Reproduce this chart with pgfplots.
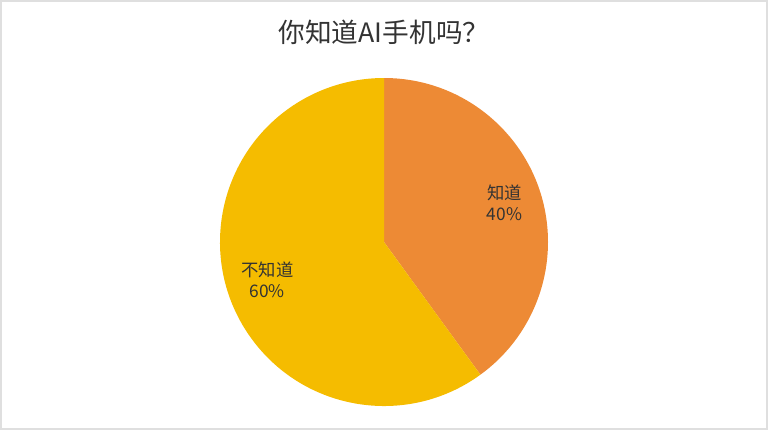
\documentclass[border=0pt]{standalone}
\usepackage{fontspec}
\setmainfont{Noto Sans CJK SC}
\usepackage{pgfplots}
\usepackage{pgfplotstable}
\pgfplotsset{compat=1.18}

\definecolor{Orange}{HTML}{ED8A35}
\definecolor{Gold}{HTML}{F5BC00}
\definecolor{Ink}{HTML}{333333}

% answers to the survey question, in percent
\pgfplotstableread{
label value
知道 40
不知道 60
}\answers

\pgfplotstablegetelem{0}{value}\of\answers \edef\know{\pgfplotsretval}
\pgfplotstablegetelem{1}{value}\of\answers \edef\dontknow{\pgfplotsretval}
\pgfplotstablegetelem{0}{label}\of\answers \edef\knowname{\pgfplotsretval}
\pgfplotstablegetelem{1}{label}\of\answers \edef\dontknowname{\pgfplotsretval}
\pgfmathsetmacro\total{\know+\dontknow}
\pgfmathsetmacro\split{90-360*\know/\total}
\pgfmathsetmacro\midA{90-180*\know/\total}
\pgfmathsetmacro\midB{\split-180*\dontknow/\total}

\begin{document}
\begin{tikzpicture}
\begin{axis}[
    width=576pt, height=322.5pt, scale only axis,
    xmin=0, xmax=768, ymin=0, ymax=430,
    hide axis, clip=false,
]
\path (axis cs:0,0) rectangle (axis cs:768,430);
\draw[gray!25, line width=1.5pt] (axis cs:1,1) rectangle (axis cs:767,429);

% pie, centre (384,188), radius 164 px = 123pt
\fill[Orange] (axis cs:384,188) -- ++(90:123pt)
    arc[start angle=90, end angle=\split, radius=123pt] -- cycle;
\fill[Gold] (axis cs:384,188) -- ++(\split:123pt)
    arc[start angle=\split, end angle=-270, radius=123pt] -- cycle;

\path (axis cs:384,188) ++(\midA:95pt)
    node[font=\fontsize{13}{16}\selectfont, text=Ink, align=center] {\knowname\\\know\%};
\path (axis cs:384,188) ++(\midB:92pt)
    node[font=\fontsize{13}{16}\selectfont, text=Ink, align=center] {\dontknowname\\\dontknow\%};

\node[font=\fontsize{20}{24}\selectfont, text=Ink] at (axis cs:384,398) {你知道AI手机吗？};
\end{axis}
\end{tikzpicture}
\end{document}
